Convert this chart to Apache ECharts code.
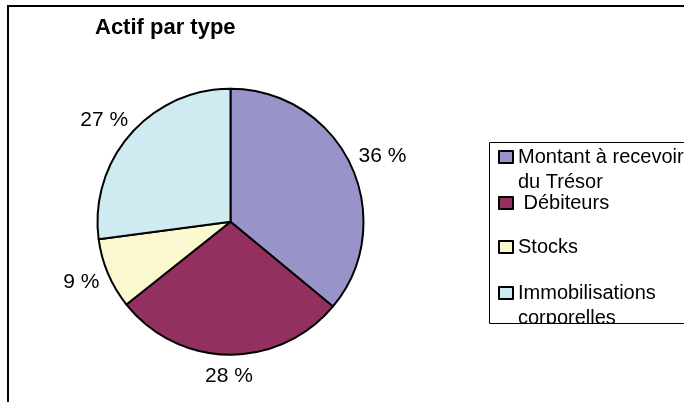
<!DOCTYPE html>
<html><head><meta charset="utf-8">
<script src="https://cdn.jsdelivr.net/npm/echarts@6/dist/echarts.min.js"></script>
<style>html,body{margin:0;padding:0;background:#fff}#c{width:684px;height:402px}</style>
</head><body><div id="c"></div>
<script>
const titleText = 'Actif par type';
const categories = ['Montant à recevoir du Trésor', 'Débiteurs', 'Stocks', 'Immobilisations corporelles'];
const legendLabels = ['Montant à recevoir\ndu Trésor', ' Débiteurs', 'Stocks', 'Immobilisations\ncorporelles'];
const values = [36.0, 28.3, 8.6, 27.1];
const colors = ['#9894C9', '#94305F', '#FBF8D0', '#CDEBF0'];

const FONT = '"Liberation Sans", Arial, Helvetica, sans-serif';
const CX = 230.5, CY = 221.7, R = 133, GAP = 11;
const total = values.reduce((a, b) => a + b, 0);
const mids = [];
let acc = 0;
values.forEach(v => { mids.push((acc + v / 2) / total * 2 * Math.PI); acc += v; });

const legendIconCenters = [157, 203, 247, 293];
const legends = categories.map((name, i) => {
  const multi = legendLabels[i].indexOf('\n') >= 0;
  return {
    orient: 'vertical', left: 498,
    top: multi ? legendIconCenters[i] - 37.5 : legendIconCenters[i] - 12.5,
    padding: 0, itemWidth: 14, itemHeight: 12, itemGap: 0,
    data: [name], selectedMode: false, icon: 'rect',
    formatter: () => (multi ? ' \n' : '') + legendLabels[i],
    textStyle: { fontFamily: FONT, fontSize: 20, color: '#000', lineHeight: 25 }
  };
});

const chart = echarts.init(document.getElementById('c'), null, { renderer: 'canvas' });
chart.setOption({
  animation: false,
  backgroundColor: '#fff',
  title: {
    text: titleText, left: 95, top: 17, padding: 0,
    textStyle: { fontFamily: FONT, fontSize: 22, fontWeight: 'bold', color: '#000' }
  },
  legend: legends,
  graphic: [
    { type: 'rect', shape: { x: 8, y: 6, width: 800, height: 500 }, style: { fill: 'none', stroke: '#000', lineWidth: 2 }, z: 0, silent: true },
    { type: 'rect', shape: { x: 490, y: 324, width: 200, height: 90 }, style: { fill: '#fff' }, z: 100, silent: true },
    { type: 'rect', shape: { x: 489.5, y: 142.5, width: 300, height: 181 }, style: { fill: 'none', stroke: '#000', lineWidth: 1 }, z: 101, silent: true }
  ],
  series: [{
    type: 'pie',
    center: [CX, CY], radius: R,
    startAngle: 90, clockwise: true,
    avoidLabelOverlap: false, silent: true,
    itemStyle: { borderColor: '#000', borderWidth: 2 },
    label: {
      show: true, position: 'outside', color: '#000', fontFamily: FONT, fontSize: 21,
      formatter: p => Math.round(p.percent) + ' %'
    },
    labelLine: { show: false, length: 10, length2: 0 },
    labelLayout: params => {
      const a = mids[params.dataIndex];
      const s = Math.sin(a), c = -Math.cos(a);
      const w = params.labelRect.width, h = params.labelRect.height;
      return {
        x: CX + s * (R + GAP) + s * w / 2,
        y: CY + c * (R + GAP) + c * h / 2,
        align: 'center', verticalAlign: 'middle'
      };
    },
    data: categories.map((n, i) => ({ name: n, value: values[i], itemStyle: { color: colors[i] } }))
  }]
});
</script>
</body></html>
